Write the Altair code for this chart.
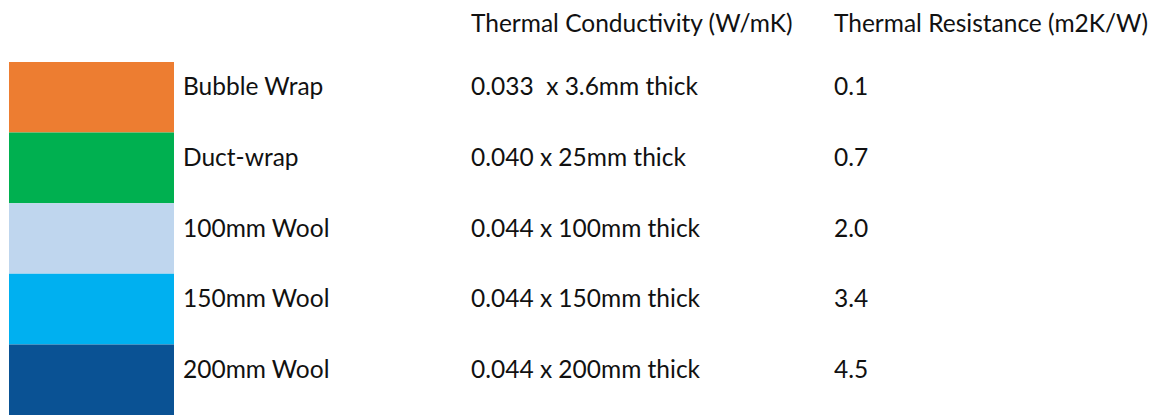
import altair as alt
import pandas as pd

materials = ["Bubble Wrap", "Duct-wrap", "100mm Wool", "150mm Wool", "200mm Wool"]
conductivity = ["0.033\u00a0 x 3.6mm thick", "0.040 x 25mm thick", "0.044 x 100mm thick",
                "0.044 x 150mm thick", "0.044 x 200mm thick"]
resistance = ["0.1", "0.7", "2.0", "3.4", "4.5"]
colors = ["#ED7D31", "#00B050", "#BFD6EE", "#00B0F0", "#0A5294"]
headers = ["Thermal Conductivity (W/mK)", "Thermal Resistance (m2K/W)"]

df = pd.DataFrame({"material": materials, "conductivity": conductivity,
                   "resistance": resistance, "color": colors})

FONT = "Lato"
FS = 24.5

y_enc = alt.Y("material:N", sort=materials, axis=None,
              scale=alt.Scale(domain=materials, range=[54, 407], paddingInner=0, paddingOuter=0))

base = alt.Chart(df)

swatch = base.mark_bar(size=70.6).encode(
    x=alt.value(1), x2=alt.value(166), y=y_enc,
    color=alt.Color("color:N", scale=None, legend=None),
)

def col(field, xpos):
    return base.mark_text(align="left", baseline="middle", dy=-9, font=FONT,
                          fontSize=FS, color="#111").encode(
        x=alt.value(xpos), y=y_enc, text=f"{field}:N")

hdf = pd.DataFrame({"h": headers, "i": [0, 1]})
hdr1 = alt.Chart(hdf).transform_filter("datum.i == 0").mark_text(
    align="left", baseline="middle", font=FONT, fontSize=FS, color="#111").encode(
    x=alt.value(463), y=alt.value(17), text="h:N")
hdr2 = alt.Chart(hdf).transform_filter("datum.i == 1").mark_text(
    align="left", baseline="middle", font=FONT, fontSize=FS, color="#111").encode(
    x=alt.value(826), y=alt.value(17), text="h:N")

chart = alt.layer(swatch, col("material", 175), col("conductivity", 463),
                  col("resistance", 826), hdr1, hdr2).properties(
    width=1142, height=408, padding=0
).configure_view(stroke=None)

chart.save("out.html", embed_options={"renderer": "svg", "actions": False})
